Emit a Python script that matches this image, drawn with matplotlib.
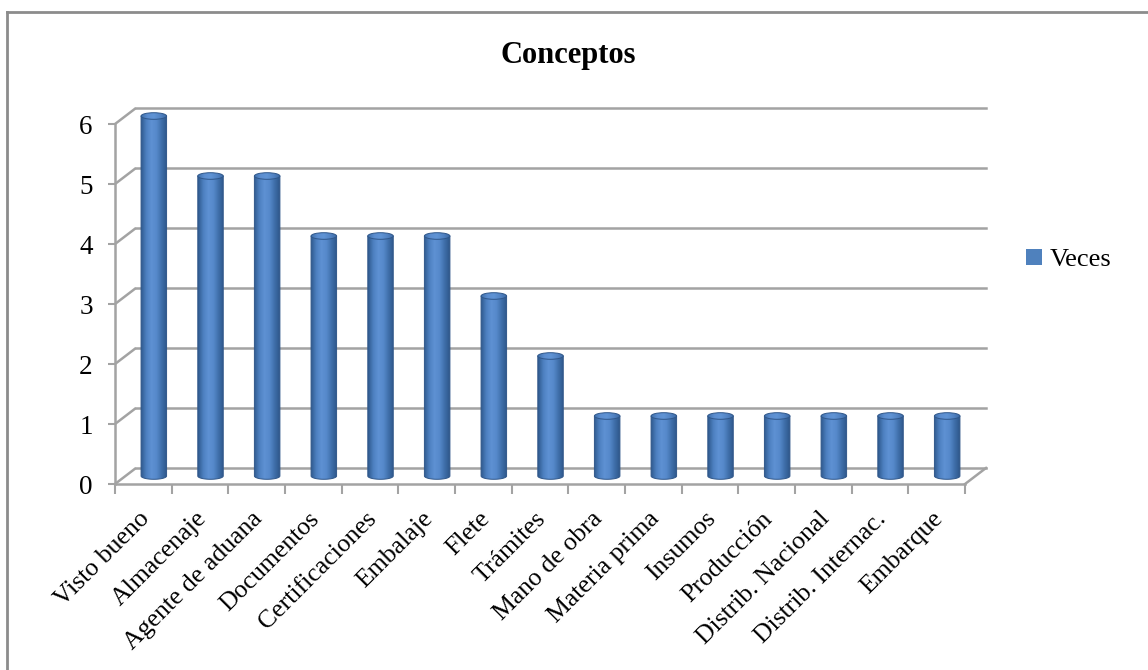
import numpy as np
import matplotlib
matplotlib.use("Agg")
import matplotlib.pyplot as plt
from matplotlib.path import Path
from matplotlib.patches import PathPatch, Ellipse, Patch
from matplotlib.lines import Line2D
from matplotlib.colors import LinearSegmentedColormap
import matplotlib.transforms as mtransforms

categories = ["Visto bueno", "Almacenaje", "Agente de aduana", "Documentos",
              "Certificaciones", "Embalaje", "Flete", "Trámites", "Mano de obra",
              "Materia prima", "Insumos", "Producción", "Distrib. Nacional",
              "Distrib. Internac.", "Embarque"]
veces = [6, 5, 5, 4, 4, 4, 3, 2, 1, 1, 1, 1, 1, 1, 1]
y_ticks = [0, 1, 2, 3, 4, 5, 6]
title = "Conceptos"
series_name = "Veces"

SERIF = "Liberation Serif"
GRID = "#a3a3a3"
W, H = 1148, 670

fig = plt.figure(figsize=(W / 100, H / 100), dpi=100)

# chart frame
fig.add_artist(Line2D([7 / W, 7 / W], [0, 1 - 12 / H], transform=fig.transFigure,
                      color="#8c8c8c", lw=2))
fig.add_artist(Line2D([7 / W, 1], [1 - 12 / H, 1 - 12 / H], transform=fig.transFigure,
                      color="#8c8c8c", lw=2))

n = len(categories)
# depth offset of the back wall in data units
DX = 0.37
DY = 0.267
left_px, right_px, top_px, bot_px = 115, 986, 108, 484
ax = fig.add_axes([left_px / W, 1 - bot_px / H, (right_px - left_px) / W,
                   (bot_px - top_px) / H])
ax.set_xlim(0, n + DX)
ax.set_ylim(0, max(y_ticks) + DY)
ax.patch.set_alpha(0)
for s in ["top", "right"]:
    ax.spines[s].set_visible(False)
ax.spines["left"].set_bounds(0, max(y_ticks))
ax.spines["bottom"].set_bounds(0, n)
for s in ["left", "bottom"]:
    ax.spines[s].set_color(GRID)
    ax.spines[s].set_linewidth(1.8)

# back wall gridlines and side wall diagonals
for v in y_ticks:
    ax.plot([0, DX], [v, v + DY], color=GRID, lw=1.8, clip_on=False, solid_capstyle="butt")
    ax.plot([DX, n + DX], [v + DY, v + DY], color=GRID, lw=1.8, clip_on=False)
ax.plot([n, n + DX], [0, DY], color=GRID, lw=1.8, clip_on=False)

# ticks
ax.set_yticks(y_ticks)
ax.set_yticklabels([str(v) for v in y_ticks], fontsize=19.5, family=SERIF)
ax.tick_params(axis="y", length=5, width=1.5, color=GRID, pad=11)
ax.set_xticks(np.arange(n + 1))
ax.set_xticklabels([])
ax.tick_params(axis="x", which="major", length=7, width=1.5, color=GRID)
ax.set_xticks(np.arange(n) + 0.5, minor=True)
ax.set_xticklabels(categories, minor=True, rotation=45, ha="right",
                   rotation_mode="anchor", fontsize=18.5, family=SERIF)
ax.tick_params(axis="x", which="minor", length=0, pad=17)
offset = mtransforms.ScaledTranslation(-5 / 100, 0, fig.dpi_scale_trans)
for lab in ax.get_xticklabels(minor=True):
    lab.set_transform(lab.get_transform() + offset)

# cylinder shading
cyl_cmap = LinearSegmentedColormap.from_list(
    "cyl", ["#2f5a8e", "#4d80c0", "#5e91d3", "#5689cb", "#3f6faa", "#2e578a"])
cap_cmap = LinearSegmentedColormap.from_list(
    "cap", ["#4070ab", "#5c8ed0", "#6094d5", "#5283c3", "#3d6ba6"])
grad = np.linspace(0, 1, 64).reshape(1, -1)

bw = 0.45
eh = 0.11
y0 = DY / 2
for i, v in enumerate(veces):
    cx = i + 0.5 + DX / 2
    y1 = v + DY / 2
    xl, xr = cx - bw / 2, cx + bw / 2
    t = np.linspace(np.pi, 2 * np.pi, 40)
    bx = cx + bw / 2 * np.cos(t)
    by = y0 + eh / 2 * np.sin(t)
    verts = [(xl, y1)] + list(zip(bx, by)) + [(xr, y1), (xl, y1)]
    body = PathPatch(Path(verts, closed=True), facecolor="none",
                     edgecolor="#30578a", lw=0.7, zorder=3)
    ax.add_patch(body)
    im = ax.imshow(grad, cmap=cyl_cmap, aspect="auto",
                   extent=[xl, xr, y0 - eh, y1 + eh], interpolation="bilinear",
                   zorder=2)
    im.set_clip_path(body)
    cap = Ellipse((cx, y1), bw, eh, facecolor="none", edgecolor="#30578a",
                  lw=0.7, zorder=5)
    ax.add_patch(cap)
    imc = ax.imshow(grad, cmap=cap_cmap, aspect="auto",
                    extent=[xl, xr, y1 - eh / 2, y1 + eh / 2],
                    interpolation="bilinear", zorder=4)
    imc.set_clip_path(cap)

ax.set_xlim(0, n + DX)
ax.set_ylim(0, max(y_ticks) + DY)

fig.text(568 / W, 1 - 55 / H, title, ha="center", va="center",
         fontsize=22, fontweight="bold", family=SERIF)

handle = Patch(facecolor="#4f81bd", edgecolor="none")
fig.legend([handle], [series_name], loc="center left",
           bbox_to_anchor=(1026 / W, 1 - 260 / H), frameon=False,
           prop={"family": SERIF, "size": 19}, handlelength=0.6,
           handleheight=0.6, handletextpad=0.3, borderaxespad=0, borderpad=0)

fig.savefig("out.png", dpi=100)
